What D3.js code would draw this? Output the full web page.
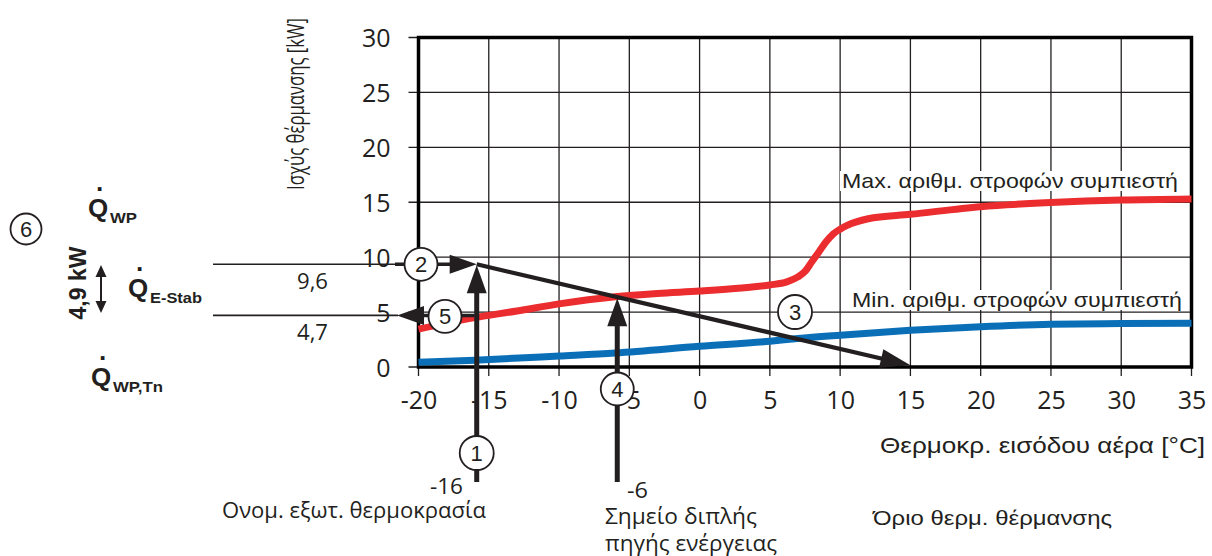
<!DOCTYPE html>
<html><head><meta charset="utf-8">
<script src="https://cdn.jsdelivr.net/npm/d3@7"></script>
<style>body{margin:0;background:#fff}svg{display:block}</style>
</head><body>
<svg id="c" width="1212" height="556"></svg>
<script>
// ---- data ----
const xTicks = [-20,-15,-10,-5,0,5,10,15,20,25,30,35];
const yTicks = [0,5,10,15,20,25,30];
const maxTemp  = [-20,-18,-16,-13,-10,-6,-3,0,3,5,6.2,7,7.5,8,8.5,9,9.5,10,10.5,12,15,20,25,30,35];
const maxPower = [3.45,4.0,4.5,5.1,5.75,6.4,6.7,6.92,7.2,7.47,7.75,8.2,8.7,9.6,10.5,11.4,12.1,12.55,12.9,13.5,13.9,14.6,14.97,15.2,15.3];
const minTemp  = [-20,-16,-10,-6,0,5,7,10,15,20,25,30,35];
const minPower = [0.43,0.62,1.0,1.27,1.88,2.35,2.6,2.9,3.34,3.67,3.89,3.95,3.98];
const designTemp = -16;      // ① Ονομ. εξωτ. θερμοκρασία
const bivalentTemp = -6;     // ④ Σημείο διπλής πηγής ενέργειας
const heatLimitTemp = 15;    // Όριο θερμ. θέρμανσης
const qWP = 9.35;            // drawn level of the 9,6 line
const qWPTn = 4.7;
const qLabels = ["9,6","4,7"];
const bivalentPower = 6.35;

// ---- scales ----
const svg = d3.select("#c");
const x = d3.scaleLinear().domain([-20,35]).range([418.5,1191.5]);
const y = d3.scaleLinear().domain([0,30]).range([367,37.5]);
const INK = "#231f20";
const numFont = "'Open Sans', sans-serif";
const txtFont = "'Liberation Sans', Arial, sans-serif";

// grid
const g = svg.append("g");
g.selectAll(".vx").data(xTicks).join("line")
  .attr("x1",d=>x(d)).attr("x2",d=>x(d)).attr("y1",y(30)).attr("y2",y(0)+9)
  .attr("stroke",INK).attr("stroke-width",1.3);
g.selectAll(".hy").data(yTicks).join("line")
  .attr("x1",x(-20)-10).attr("x2",x(35)).attr("y1",d=>y(d)).attr("y2",d=>y(d))
  .attr("stroke",INK).attr("stroke-width",1.3);

// axes tick labels via d3 axes
const xAxis = svg.append("g").attr("transform",`translate(0,${y(0)})`)
  .call(d3.axisBottom(x).tickValues(xTicks).tickFormat(d=>String(d)).tickSize(0).tickPadding(24));
xAxis.select(".domain").remove();
xAxis.selectAll("text").attr("font-family",numFont).attr("font-size",25).attr("fill",INK);
const yAxis = svg.append("g").attr("transform",`translate(${x(-20)},0)`)
  .call(d3.axisLeft(y).tickValues(yTicks).tickFormat(d=>String(d)).tickSize(0).tickPadding(28));
yAxis.select(".domain").remove();
yAxis.selectAll("text").attr("font-family",numFont).attr("font-size",25).attr("fill",INK).attr("dy","0.36em");

// frame
svg.append("rect").attr("x",x(-20)).attr("y",y(30)).attr("width",x(35)-x(-20)).attr("height",y(0)-y(30))
  .attr("fill","none").attr("stroke","#000").attr("stroke-width",3.5);

// text helper
function t(xp,yp,str,opts={}){
  const el = svg.append("text").attr("x",xp).attr("y",yp).attr("text-anchor",opts.anchor||"start")
    .attr("font-family",opts.font||numFont).attr("font-size",opts.size||21)
    .attr("font-weight",opts.weight||"normal").attr("fill",INK).text(str);
  if(opts.len) el.attr("textLength",opts.len).attr("lengthAdjust","spacingAndGlyphs");
  if(opts.transform) el.attr("transform",opts.transform);
  return el;
}

// axis titles
t(0,0,"Ισχύς θέρμανσης [kW]",{transform:"translate(304,190) rotate(-90)",size:24,len:172});
t(880,453,"Θερμοκρ. εισόδου αέρα [°C]",{font:txtFont,size:22,len:325});

// curve labels with white background
function bgText(tx,ty,str,len){
  const el = t(tx,ty,str,{font:txtFont,size:21,len:len});
  const b = el.node().getBBox();
  svg.insert("rect",()=>el.node()).attr("x",b.x-2).attr("y",b.y+2).attr("width",b.width+4).attr("height",b.height-3).attr("fill","#fff");
}
bgText(842,188,"Max. αριθμ. στροφών συμπιεστή",336);
bgText(852,307,"Min. αριθμ. στροφών συμπιεστή",330);

// curves
const line = d3.line().x(d=>x(d[0])).y(d=>y(d[1])).curve(d3.curveMonotoneX);
svg.append("path").attr("d",line(d3.zip(minTemp,minPower))).attr("fill","none")
  .attr("stroke","#0b6fb8").attr("stroke-width",7);
svg.append("path").attr("d",line(d3.zip(maxTemp,maxPower))).attr("fill","none")
  .attr("stroke","#ec2d2f").attr("stroke-width",7);

// arrow helpers
function head(tx,ty,ang,len,wid){
  const c=Math.cos(ang), s=Math.sin(ang);
  const bx=tx-c*len, by=ty-s*len;
  const p=[[tx,ty],[bx-s*wid/2,by+c*wid/2],[bx+s*wid/2,by-c*wid/2]];
  svg.append("path").attr("d","M"+p.map(q=>q.join(",")).join("L")+"Z").attr("fill",INK);
}
function seg(x1,y1,x2,y2,w){
  svg.append("line").attr("x1",x1).attr("y1",y1).attr("x2",x2).attr("y2",y2)
    .attr("stroke",INK).attr("stroke-width",w);
}

// horizontal reference lines from left annotations
const yWP = y(qWP), yTn = y(qWPTn);
seg(213,yWP,395,yWP,1.6);
seg(395,yWP,x(designTemp)-22,yWP,3.5);
head(x(designTemp)+2,yWP,0,27,19);
seg(213,yTn,398,yTn,1.6);
seg(420,yTn,x(designTemp),yTn,3.5);
head(397,yTn,Math.PI,27,19);

// diagonal heat demand line
const dx1=x(designTemp)+2, dy1=yWP, dx2=x(heatLimitTemp), dy2=y(0.15);
const ang=Math.atan2(dy2-dy1,dx2-dx1);
seg(dx1,dy1,dx2-Math.cos(ang)*20,dy2-Math.sin(ang)*20,4.2);
head(dx2,dy2,ang,30,19);

// vertical arrows
const vx1 = x(designTemp)+2;
seg(vx1,482,vx1,yWP+24,5);
head(vx1,yWP+1,-Math.PI/2,28,20);
const vx4 = x(bivalentTemp)+2;
seg(vx4,482,vx4,y(bivalentPower)+24,5);
head(vx4,y(bivalentPower)+1,-Math.PI/2,28,20);

// numbered circles
function circ(cx,cy,n,r){
  svg.append("circle").attr("cx",cx).attr("cy",cy).attr("r",r).attr("fill","#fff").attr("stroke",INK).attr("stroke-width",1.8);
  t(cx,cy+8,n,{anchor:"middle",font:txtFont,size:22});
}
circ(vx1,453,"1",17);
circ(421,yWP,"2",16.5);
circ(795,312,"3",17);
circ(vx4,389,"4",16.5);
circ(445,yTn+1,"5",16.5);
circ(26,229,"6",15.5);

// value labels
t(297,289,qLabels[0],{size:22,len:31});
t(297,340,qLabels[1],{size:22,len:31});
t(430,494,String(designTemp),{size:22,len:33});
t(627,498,String(bivalentTemp),{size:22,len:21});
t(222,518,"Ονομ. εξωτ. θερμοκρασία",{size:21,len:264});
t(605,524,"Σημείο διπλής",{size:21,len:152});
t(605,551,"πηγής ενέργειας",{size:21,len:172});
t(873,525,"Όριο θερμ. θέρμανσης",{font:txtFont,size:21,len:239});

// Q labels
function qLabel(qx,qy,sub,subLen){
  t(qx,qy,"Q",{font:txtFont,size:26,weight:"bold"});
  t(qx+8,qy-19,"·",{font:txtFont,size:26,weight:"bold"});
  t(qx+22,qy+6,sub,{font:txtFont,size:15,weight:"bold",len:subLen});
}
qLabel(88,217,"WP",27);
qLabel(128,297,"E-Stab",52);
qLabel(91,386,"WP,Tn",50);
t(0,0,"4,9 kW",{transform:"translate(86,283) rotate(-90)",anchor:"middle",font:txtFont,size:23,weight:"bold"});
seg(101,276,101,302,2);
head(101,265,-Math.PI/2,12,11);
head(101,313,Math.PI/2,12,11);
</script>
</body></html>
